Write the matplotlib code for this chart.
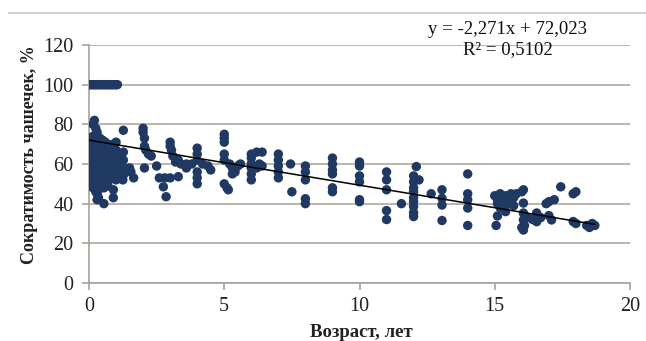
import matplotlib
matplotlib.use("Agg")
import matplotlib.pyplot as plt
from matplotlib.lines import Line2D

# ---------------- data ----------------
# y = 100 row (young children)
x_row100 = [0.0, 0.05, 0.1, 0.15, 0.2, 0.25, 0.3, 0.35, 0.4, 0.45, 0.5,
            0.55, 0.6, 0.65, 0.7, 0.75, 0.8, 0.85, 0.9, 0.95, 1.0, 1.05]
y_row100 = [100] * len(x_row100)

# dense cluster 0..1.1 years : x -> list of y
cluster_x = [0.0, 0.05, 0.1, 0.15, 0.2, 0.25, 0.3, 0.35, 0.4, 0.45, 0.5,
             0.55, 0.6, 0.65, 0.7, 0.75, 0.8, 0.85, 0.9, 0.95, 1.0, 1.1]
cluster_y = [
    [65, 62, 58, 55],
    [70, 60, 52],
    [72, 68, 64, 57, 50],
    [80, 74, 66, 61, 54, 48],
    [82, 71, 67, 63, 59, 56, 52],
    [78, 73, 69, 65, 60, 57, 50, 46],
    [76, 70, 66, 62, 58, 54, 45, 42],
    [72, 68, 64, 60, 55, 51, 47, 43],
    [73, 70, 65, 61, 57, 53, 49],
    [71, 67, 63, 59, 55, 52],
    [72, 68, 64, 60, 56, 50],
    [70, 66, 62, 58, 54, 48, 40],
    [71, 67, 63, 59, 55, 51],
    [69, 65, 61, 57, 53],
    [70, 66, 62, 58, 54, 49],
    [68, 64, 60, 56, 52],
    [69, 65, 61, 57, 53],
    [67, 63, 59, 55],
    [70, 66, 62, 58, 54, 47, 43],
    [64, 60, 56],
    [71, 67, 63, 59, 55, 52],
    [65, 61, 57],
]

# remaining points
x_other = [1.27, 1.27, 1.27, 1.3, 1.3, 1.25, 1.55, 1.65, 1.5,
           2.0, 2.0, 2.05, 2.05, 2.1, 2.2, 2.3, 2.05,
           2.5, 2.6, 2.8, 3.0, 2.75, 2.85,
           3.0, 3.0, 3.05, 3.1, 3.2, 3.3, 3.4, 3.6, 3.3,
           3.6, 3.8, 4.0, 4.0, 4.0, 4.0, 4.0, 4.0, 4.2,
           4.4, 4.5,
           5.0, 5.0, 5.0, 5.0, 5.0, 5.0, 5.1, 5.15,
           5.2, 5.3, 5.4, 5.5, 5.6, 5.3,
           6.0, 6.0, 6.0, 6.0, 6.0, 6.0, 6.2, 6.4, 6.3, 6.2, 6.4,
           7.0, 7.0, 7.0, 7.0, 7.0, 7.45, 7.5,
           8.0, 8.0, 8.0, 8.0, 8.0,
           9.0, 9.0, 9.0, 9.0, 9.0, 9.0,
           10.0, 10.0, 10.0, 10.0, 10.0, 10.0,
           11.0, 11.0, 11.0, 11.0, 11.0, 11.55,
           12.0, 12.0, 12.0, 12.0, 12.0, 12.0, 12.0, 12.0, 12.0, 12.1, 12.2, 12.65,
           13.05, 13.05, 13.05, 13.05,
           14.0, 14.0, 14.0, 14.0, 14.0,
           15.0, 15.1, 15.1, 15.2, 15.3, 15.3, 15.4, 15.5, 15.5, 15.6, 15.7,
           15.2, 15.4, 15.7, 15.8, 16.0, 15.1, 15.05, 15.4,
           16.06, 16.06, 16.06, 16.06, 16.06, 16.1, 16.0, 16.2,
           16.55, 16.55, 16.4, 16.7,
           16.9, 17.0, 17.2, 17.1, 17.0,
           17.44,
           17.9, 18.0, 17.9, 18.0,
           18.4, 18.5, 18.6, 18.7]
y_other = [77, 66, 62, 58, 55, 52, 56, 53, 58,
           78, 76, 73, 69, 67, 65, 64, 58,
           59, 53, 53, 53, 48.5, 43.5,
           71, 69, 67, 64, 61, 62, 60, 58, 53.6,
           60, 60, 68, 65, 62, 56, 53, 50, 60,
           59, 57,
           75, 73, 71, 65, 62, 50, 48, 47,
           60, 58, 56, 59, 60, 55,
           65, 63, 60, 58, 55, 52, 66, 66, 60, 58, 59,
           65, 62, 59, 56, 53, 60, 46,
           59, 56, 52, 42.5, 40,
           63, 60, 57, 55, 48, 46,
           61, 59, 54, 51, 42, 41,
           56, 52, 47, 36.5, 32, 40,
           54, 51, 48, 46, 43, 41, 38.5, 35.5, 33.5, 58.7, 52, 45,
           47, 42.7, 39.3, 31.5,
           55, 45, 42, 37.8, 29,
           44, 42, 40, 45, 43, 41, 44, 42, 40, 45, 43,
           38, 39, 39, 45, 46, 33.8, 29, 36,
           47, 40.3, 35.3, 31.8, 26.7, 29, 28, 33,
           35.3, 30.9, 32, 33,
           40, 41, 42, 31.8, 34,
           48.5,
           45, 46, 31, 30,
           29, 28, 30, 29]

# trend line parameters (as printed on chart)
slope = -2.271
intercept = 72.023
eq_text = "y = -2,271x + 72,023"
r2_text = "R² = 0,5102"

x_ticks = [0, 5, 10, 15, 20]
y_ticks = [0, 20, 40, 60, 80, 100, 120]
x_label = "Возраст, лет"
y_label = "Сократимость чашечек, %"

# ---------------- build point list ----------------
xs = list(x_row100)
ys = list(y_row100)
for cx, cys in zip(cluster_x, cluster_y):
    for cy in cys:
        xs.append(cx)
        ys.append(cy)
xs += x_other
ys += y_other

# ---------------- plot ----------------
plt.rcParams['font.family'] = ['Liberation Serif', 'DejaVu Serif']

fig = plt.figure(figsize=(6.46, 3.41), dpi=100)
ax = fig.add_axes([89/646, 1 - 283/341, (630 - 89)/646, (283 - 45)/341])

grid_c = '#bdb3aa'
ax.set_xlim(0, 20)
ax.set_ylim(0, 120)
ax.set_yticks(y_ticks)
ax.set_xticks(x_ticks)
ax.yaxis.grid(True, color=grid_c, linewidth=1.4)
ax.set_axisbelow(True)

ax.scatter(xs, ys, s=46, color='#1f3962', edgecolors='none', zorder=3)

x0, x1 = min(xs), max(xs)
ax.plot([x0, x1], [slope * x0 + intercept, slope * x1 + intercept],
        color='black', linewidth=1.1, zorder=4)

for side in ['top', 'right']:
    ax.spines[side].set_visible(False)
ax.spines['left'].set_color('#a9a29c')
ax.spines['bottom'].set_color('#a9a29c')
ax.spines['left'].set_linewidth(1.2)
ax.spines['bottom'].set_linewidth(1.2)
ax.tick_params(axis='both', colors='#a9a29c', length=5, width=1.2,
               labelsize=14.5, labelcolor='#222222')
ax.tick_params(axis='y', pad=6)
ax.tick_params(axis='x', pad=5)

ax.set_ylabel(y_label, fontsize=13, fontweight='bold', color='#222222')
ax.yaxis.set_label_coords(-0.094, 0.538)

fig.text(361/646, 1 - 337/341, x_label, ha='center', va='baseline',
         fontsize=13.5, fontweight='bold', color='#222222')

fig.text(508/646, 1 - 29/341, eq_text, ha='center', va='center', fontsize=13.5, color='#111111')
fig.text(508/646, 1 - 50/341, r2_text, ha='center', va='center', fontsize=13.5, color='#111111')

fig.add_artist(Line2D([9/646, 1], [1 - 13/341, 1 - 13/341], transform=fig.transFigure,
                      color='#cfc7c0', linewidth=1.2))

fig.savefig('out.png', dpi=100, facecolor='white')
